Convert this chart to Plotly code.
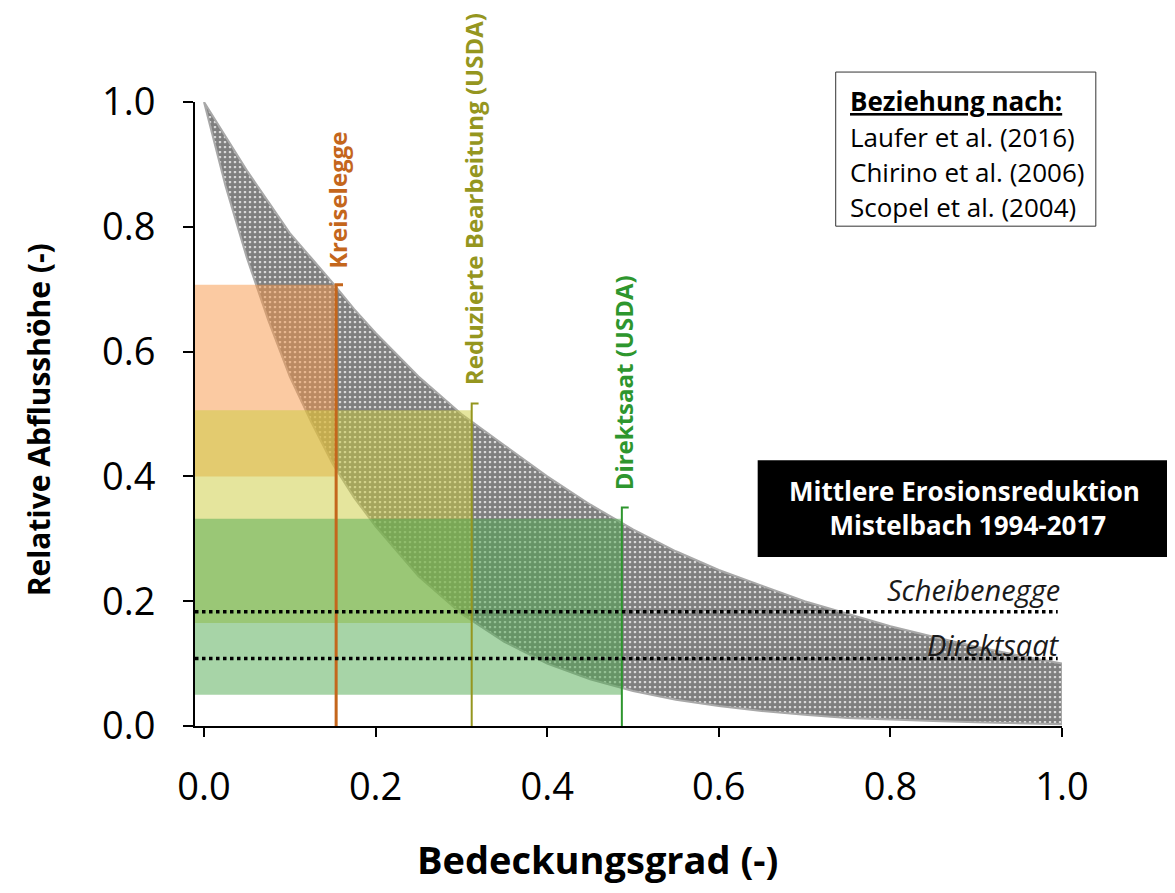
import plotly.graph_objects as go

# ---- data ----
cover = [0.0, 0.025, 0.05, 0.075, 0.10, 0.125, 0.15, 0.175, 0.20, 0.25, 0.30, 0.35,
         0.40, 0.45, 0.50, 0.55, 0.60, 0.65, 0.70, 0.75, 0.80, 0.85, 0.90, 0.95, 1.0]
runoff_upper = [1.0, 0.944, 0.89, 0.84, 0.79, 0.75, 0.71, 0.668, 0.63, 0.56, 0.50, 0.45,
                0.40, 0.355, 0.315, 0.28, 0.25, 0.225, 0.20, 0.18, 0.16, 0.143, 0.127, 0.113, 0.10]
runoff_lower = [1.0, 0.866, 0.75, 0.65, 0.56, 0.487, 0.42, 0.366, 0.32, 0.24, 0.18, 0.135,
                0.10, 0.075, 0.056, 0.042, 0.032, 0.024, 0.018, 0.013, 0.010, 0.008, 0.006, 0.004, 0.003]

methods = ["Kreiselegge", "Reduzierte Bearbeitung (USDA)", "Direktsaat (USDA)"]
method_cover = [0.154, 0.312, 0.487]
method_line_top = [0.707, 0.517, 0.35]
method_range_low = [0.40, 0.165, 0.05]
method_range_high = [0.707, 0.506, 0.332]
method_colors = ["#C4661C", "#95961F", "#2E962E"]
method_fill = ["rgba(247,150,70,0.5)", "rgba(204,204,60,0.5)", "rgba(80,170,80,0.5)"]
method_linewidth = [3, 2, 2]
method_label_y = [0.843, 0.845, 0.55]

erosion_names = ["Scheibenegge", "Direktsaat"]
erosion_values = [0.183, 0.108]
erosion_label_y = [0.218, 0.131]

sources = ["Laufer et al. (2016)", "Chirino et al. (2006)", "Scopel et al. (2004)"]

x_min = -0.0105
x_max_line = 0.995
cap_len = 0.008

fig = go.Figure()

# band between relations
fig.add_trace(go.Scatter(
    x=cover + cover[::-1],
    y=runoff_upper + runoff_lower[::-1],
    fill="toself", mode="lines",
    line=dict(color="#A8A8A8", width=2),
    fillcolor="white",
    fillpattern=dict(shape=".", size=5, solidity=0.8, fgcolor="black", bgcolor="white"),
    hoverinfo="skip", showlegend=False,
))

# ranges for methods
for i in range(len(methods)):
    x0, x1 = x_min, method_cover[i]
    y0, y1 = method_range_low[i], method_range_high[i]
    fig.add_trace(go.Scatter(
        x=[x0, x1, x1, x0, x0], y=[y0, y0, y1, y1, y0],
        fill="toself", mode="none", fillcolor=method_fill[i],
        hoverinfo="skip", showlegend=False,
    ))

# vertical method lines
for i in range(len(methods)):
    c = method_cover[i]
    top = method_line_top[i]
    fig.add_trace(go.Scatter(
        x=[c, c, c + cap_len], y=[0, top, top],
        mode="lines", line=dict(color=method_colors[i], width=method_linewidth[i]),
        hoverinfo="skip", showlegend=False, cliponaxis=False,
    ))
    fig.add_annotation(
        x=c + 0.002, xref="x", y=method_label_y[i], yref="paper",
        text="<b>" + methods[i] + "</b>", textangle=-90, showarrow=False,
        font=dict(family="Open Sans", size=24, color=method_colors[i]),
        xanchor="center", yanchor="middle",
    )

# dotted erosion lines
for i in range(len(erosion_names)):
    fig.add_trace(go.Scatter(
        x=[x_min, x_max_line], y=[erosion_values[i], erosion_values[i]],
        mode="lines", line=dict(color="black", width=3.5, dash="dot"),
        hoverinfo="skip", showlegend=False,
    ))
    fig.add_annotation(
        x=1.0, xref="x", y=erosion_label_y[i], yref="y",
        text="<i>" + erosion_names[i] + "</i>", showarrow=False,
        font=dict(family="Open Sans", size=29, color="#1a1a1a"),
        xanchor="right", yanchor="middle",
    )

# black box
fig.add_shape(type="rect", xref="paper", yref="paper",
              x0=0.649, x1=1.127, y0=0.271, y1=0.426,
              fillcolor="black", line=dict(width=0))
fig.add_annotation(
    x=0.887, xref="paper", y=0.349, yref="paper",
    text="<b>Mittlere Erosionsreduktion</b><br><b> Mistelbach 1994-2017</b>",
    showarrow=False, align="center",
    font=dict(family="Open Sans", size=26, color="white"),
    xanchor="center", yanchor="middle",
)

# source box
fig.add_shape(type="rect", xref="paper", yref="paper",
              x0=0.739, x1=1.039, y0=0.801, y1=1.048,
              fillcolor="white", line=dict(color="#333333", width=1))
fig.add_annotation(
    x=0.753, xref="paper", y=(726 - 101) / 624, yref="paper",
    text="<b><u>Beziehung nach:</u></b>", showarrow=False,
    font=dict(family="Open Sans", size=26, color="black"),
    xanchor="left", yanchor="middle",
)
for i, s in enumerate(sources):
    fig.add_annotation(
        x=0.753, xref="paper", y=(726 - (137 + 35 * i)) / 624, yref="paper",
        text=s, showarrow=False,
        font=dict(family="Open Sans", size=26, color="black"),
        xanchor="left", yanchor="middle",
    )

# axis titles
fig.add_annotation(
    x=-0.181, xref="paper", y=0.49, yref="paper",
    text="<b>Relative Abflusshöhe (-)</b>", textangle=-90, showarrow=False,
    font=dict(family="Open Sans", size=30, color="black"),
    xanchor="center", yanchor="middle",
)
fig.add_annotation(
    x=0.4637, xref="paper", y=-0.213, yref="paper",
    text="<b>Bedeckungsgrad (-)</b>", showarrow=False,
    font=dict(family="Open Sans", size=38, color="black"),
    xanchor="center", yanchor="middle",
)

fig.update_layout(
    width=1167, height=885,
    margin=dict(l=187, r=113, t=94, b=167),
    paper_bgcolor="white", plot_bgcolor="white",
    font=dict(family="Open Sans", color="black"),
    showlegend=False,
)
fig.update_xaxes(
    range=[x_min, 1.0], tickvals=[0, 0.2, 0.4, 0.6, 0.8, 1.0],
    ticktext=["0.0", "0.2", "0.4", "0.6", "0.8", "1.0"],
    showline=True, linecolor="black", linewidth=2, ticks="outside", ticklen=9,
    tickwidth=2, tickcolor="black", showgrid=False, zeroline=False,
    tickfont=dict(family="Open Sans", size=38, color="black"),
    ticklabelstandoff=17,
    automargin=False,
)
fig.update_yaxes(
    range=[0, 1.0], tickvals=[0, 0.2, 0.4, 0.6, 0.8, 1.0],
    ticktext=["0.0", "0.2", "0.4", "0.6", "0.8", "1.0"],
    showline=True, linecolor="black", linewidth=2, ticks="outside", ticklen=10,
    tickwidth=2, tickcolor="black", showgrid=False, zeroline=False,
    tickfont=dict(family="Open Sans", size=38, color="black"),
    ticklabelstandoff=20,
    automargin=False,
)

fig.write_html("out.html")
